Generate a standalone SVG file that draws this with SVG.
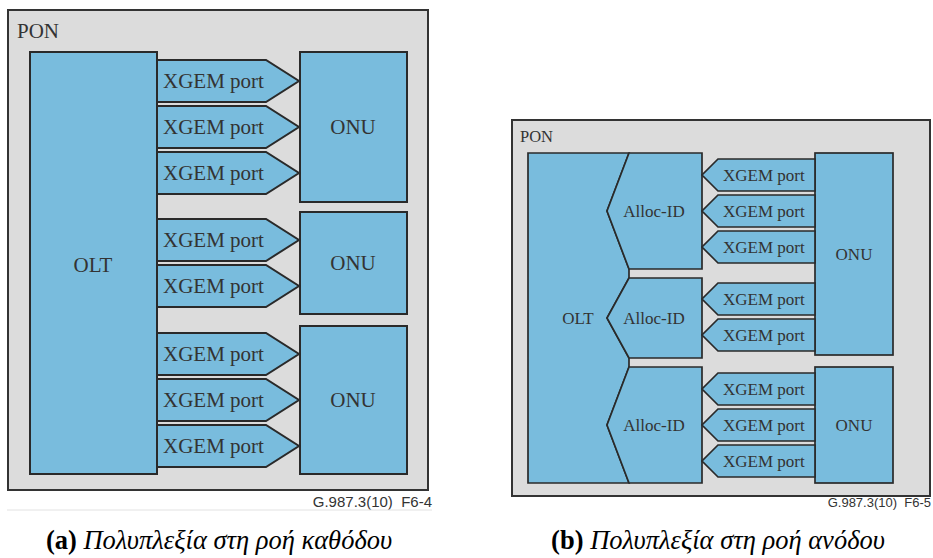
<svg xmlns="http://www.w3.org/2000/svg" width="933" height="558" viewBox="0 0 933 558">
<style>
.pon{fill:#dcdcdc;stroke:#333;stroke-width:2}
.b{fill:#79bcdd;stroke:#2a2a2a;stroke-width:2;stroke-linejoin:miter}
.b2{fill:#79bcdd;stroke:#2a2a2a;stroke-width:1.7;stroke-linejoin:miter}
.t{font-family:"Liberation Serif","Times New Roman",serif;fill:#333}
.l{font-size:21px}
.s{font-size:17px}
.m{text-anchor:middle}
.code{font-family:"Liberation Sans",Arial,sans-serif;fill:#333;text-anchor:end}
.cap{font-family:"Liberation Serif","Times New Roman",serif;font-size:26.5px;fill:#000;text-anchor:middle}
</style>
<rect width="933" height="558" fill="#fff"/>

<!-- (a) downstream -->
<g id="pon-a">
<rect class="pon" x="8" y="10" width="420" height="480"/>
<text class="t l" x="17" y="38">PON</text>
</g>
<g id="olt-a">
<rect class="b" x="30" y="52" width="127" height="422"/>
<text class="t l m" x="93" y="272">OLT</text>
</g>
<g id="onu-a1"><rect class="b" x="300" y="52" width="107" height="150"/><text class="t l m" x="353" y="134">ONU</text></g>
<g id="onu-a2"><rect class="b" x="300" y="212" width="107" height="102"/><text class="t l m" x="353" y="270">ONU</text></g>
<g id="onu-a3"><rect class="b" x="300" y="326" width="107" height="148"/><text class="t l m" x="353" y="407">ONU</text></g>
<g id="ports-a">
<g id="pa1"><polygon class="b" points="157,60 266,60 299,81 266,102 157,102"/><text class="t l" x="163" y="88">XGEM port</text></g>
<g id="pa2"><polygon class="b" points="157,106 266,106 299,127 266,148 157,148"/><text class="t l" x="163" y="134">XGEM port</text></g>
<g id="pa3"><polygon class="b" points="157,152 266,152 299,173 266,194 157,194"/><text class="t l" x="163" y="180">XGEM port</text></g>
<g id="pa4"><polygon class="b" points="157,219 266,219 299,240 266,261 157,261"/><text class="t l" x="163" y="247">XGEM port</text></g>
<g id="pa5"><polygon class="b" points="157,265 266,265 299,286 266,307 157,307"/><text class="t l" x="163" y="293">XGEM port</text></g>
<g id="pa6"><polygon class="b" points="157,333 266,333 299,354 266,375 157,375"/><text class="t l" x="163" y="361">XGEM port</text></g>
<g id="pa7"><polygon class="b" points="157,379 266,379 299,400 266,421 157,421"/><text class="t l" x="163" y="407">XGEM port</text></g>
<g id="pa8"><polygon class="b" points="157,425 266,425 299,446 266,467 157,467"/><text class="t l" x="163" y="453">XGEM port</text></g>
</g>
<text class="code" x="432" y="507" font-size="15" xml:space="preserve">G.987.3(10)  F6-4</text>
<line x1="7" y1="510" x2="432" y2="510" stroke="#e2e2e2" stroke-width="1"/>
<text class="cap" x="219" y="549"><tspan font-weight="bold">(a)</tspan> <tspan font-style="italic">Πολυπλεξία στη ροή καθόδου</tspan></text>

<!-- (b) upstream -->
<g id="pon-b">
<rect class="pon" x="512" y="120" width="418" height="376"/>
<text class="t" x="520" y="142" font-size="16.5">PON</text>
</g>
<g id="olt-b">
<polygon class="b2" points="528,153 629,153 607,211 629,269 629,278 607,318 629,358 629,367 607,425 629,483 528,483"/>
<text class="t s m" x="578" y="324">OLT</text>
</g>
<g id="alloc-1"><polygon class="b2" points="629,153 702,153 702,269 629,269 607,211"/><text class="t s m" x="654" y="217">Alloc-ID</text></g>
<g id="alloc-2"><polygon class="b2" points="629,278 702,278 702,358 629,358 607,318"/><text class="t s m" x="654" y="324">Alloc-ID</text></g>
<g id="alloc-3"><polygon class="b2" points="629,367 702,367 702,483 629,483 607,425"/><text class="t s m" x="654" y="431">Alloc-ID</text></g>
<g id="onu-b1"><rect class="b2" x="815" y="153" width="78" height="202"/><text class="t s m" x="854" y="260">ONU</text></g>
<g id="onu-b2"><rect class="b2" x="815" y="367" width="78" height="116"/><text class="t s m" x="854" y="431">ONU</text></g>
<g id="ports-b">
<g id="pb1"><polygon class="b2" points="815,159 718,159 702,175 718,191 815,191"/><text class="t s" x="723" y="181">XGEM port</text></g>
<g id="pb2"><polygon class="b2" points="815,195 718,195 702,211 718,227 815,227"/><text class="t s" x="723" y="217">XGEM port</text></g>
<g id="pb3"><polygon class="b2" points="815,231 718,231 702,247 718,263 815,263"/><text class="t s" x="723" y="253">XGEM port</text></g>
<g id="pb4"><polygon class="b2" points="815,283 718,283 702,299 718,315 815,315"/><text class="t s" x="723" y="305">XGEM port</text></g>
<g id="pb5"><polygon class="b2" points="815,319 718,319 702,335 718,351 815,351"/><text class="t s" x="723" y="341">XGEM port</text></g>
<g id="pb6"><polygon class="b2" points="815,373 718,373 702,389 718,405 815,405"/><text class="t s" x="723" y="395">XGEM port</text></g>
<g id="pb7"><polygon class="b2" points="815,409 718,409 702,425 718,441 815,441"/><text class="t s" x="723" y="431">XGEM port</text></g>
<g id="pb8"><polygon class="b2" points="815,445 718,445 702,461 718,477 815,477"/><text class="t s" x="723" y="467">XGEM port</text></g>
</g>
<text class="code" x="931" y="507" font-size="13" xml:space="preserve">G.987.3(10)  F6-5</text>
<text class="cap" x="718" y="549"><tspan font-weight="bold">(b)</tspan> <tspan font-style="italic">Πολυπλεξία στη ροή ανόδου</tspan></text>
</svg>
